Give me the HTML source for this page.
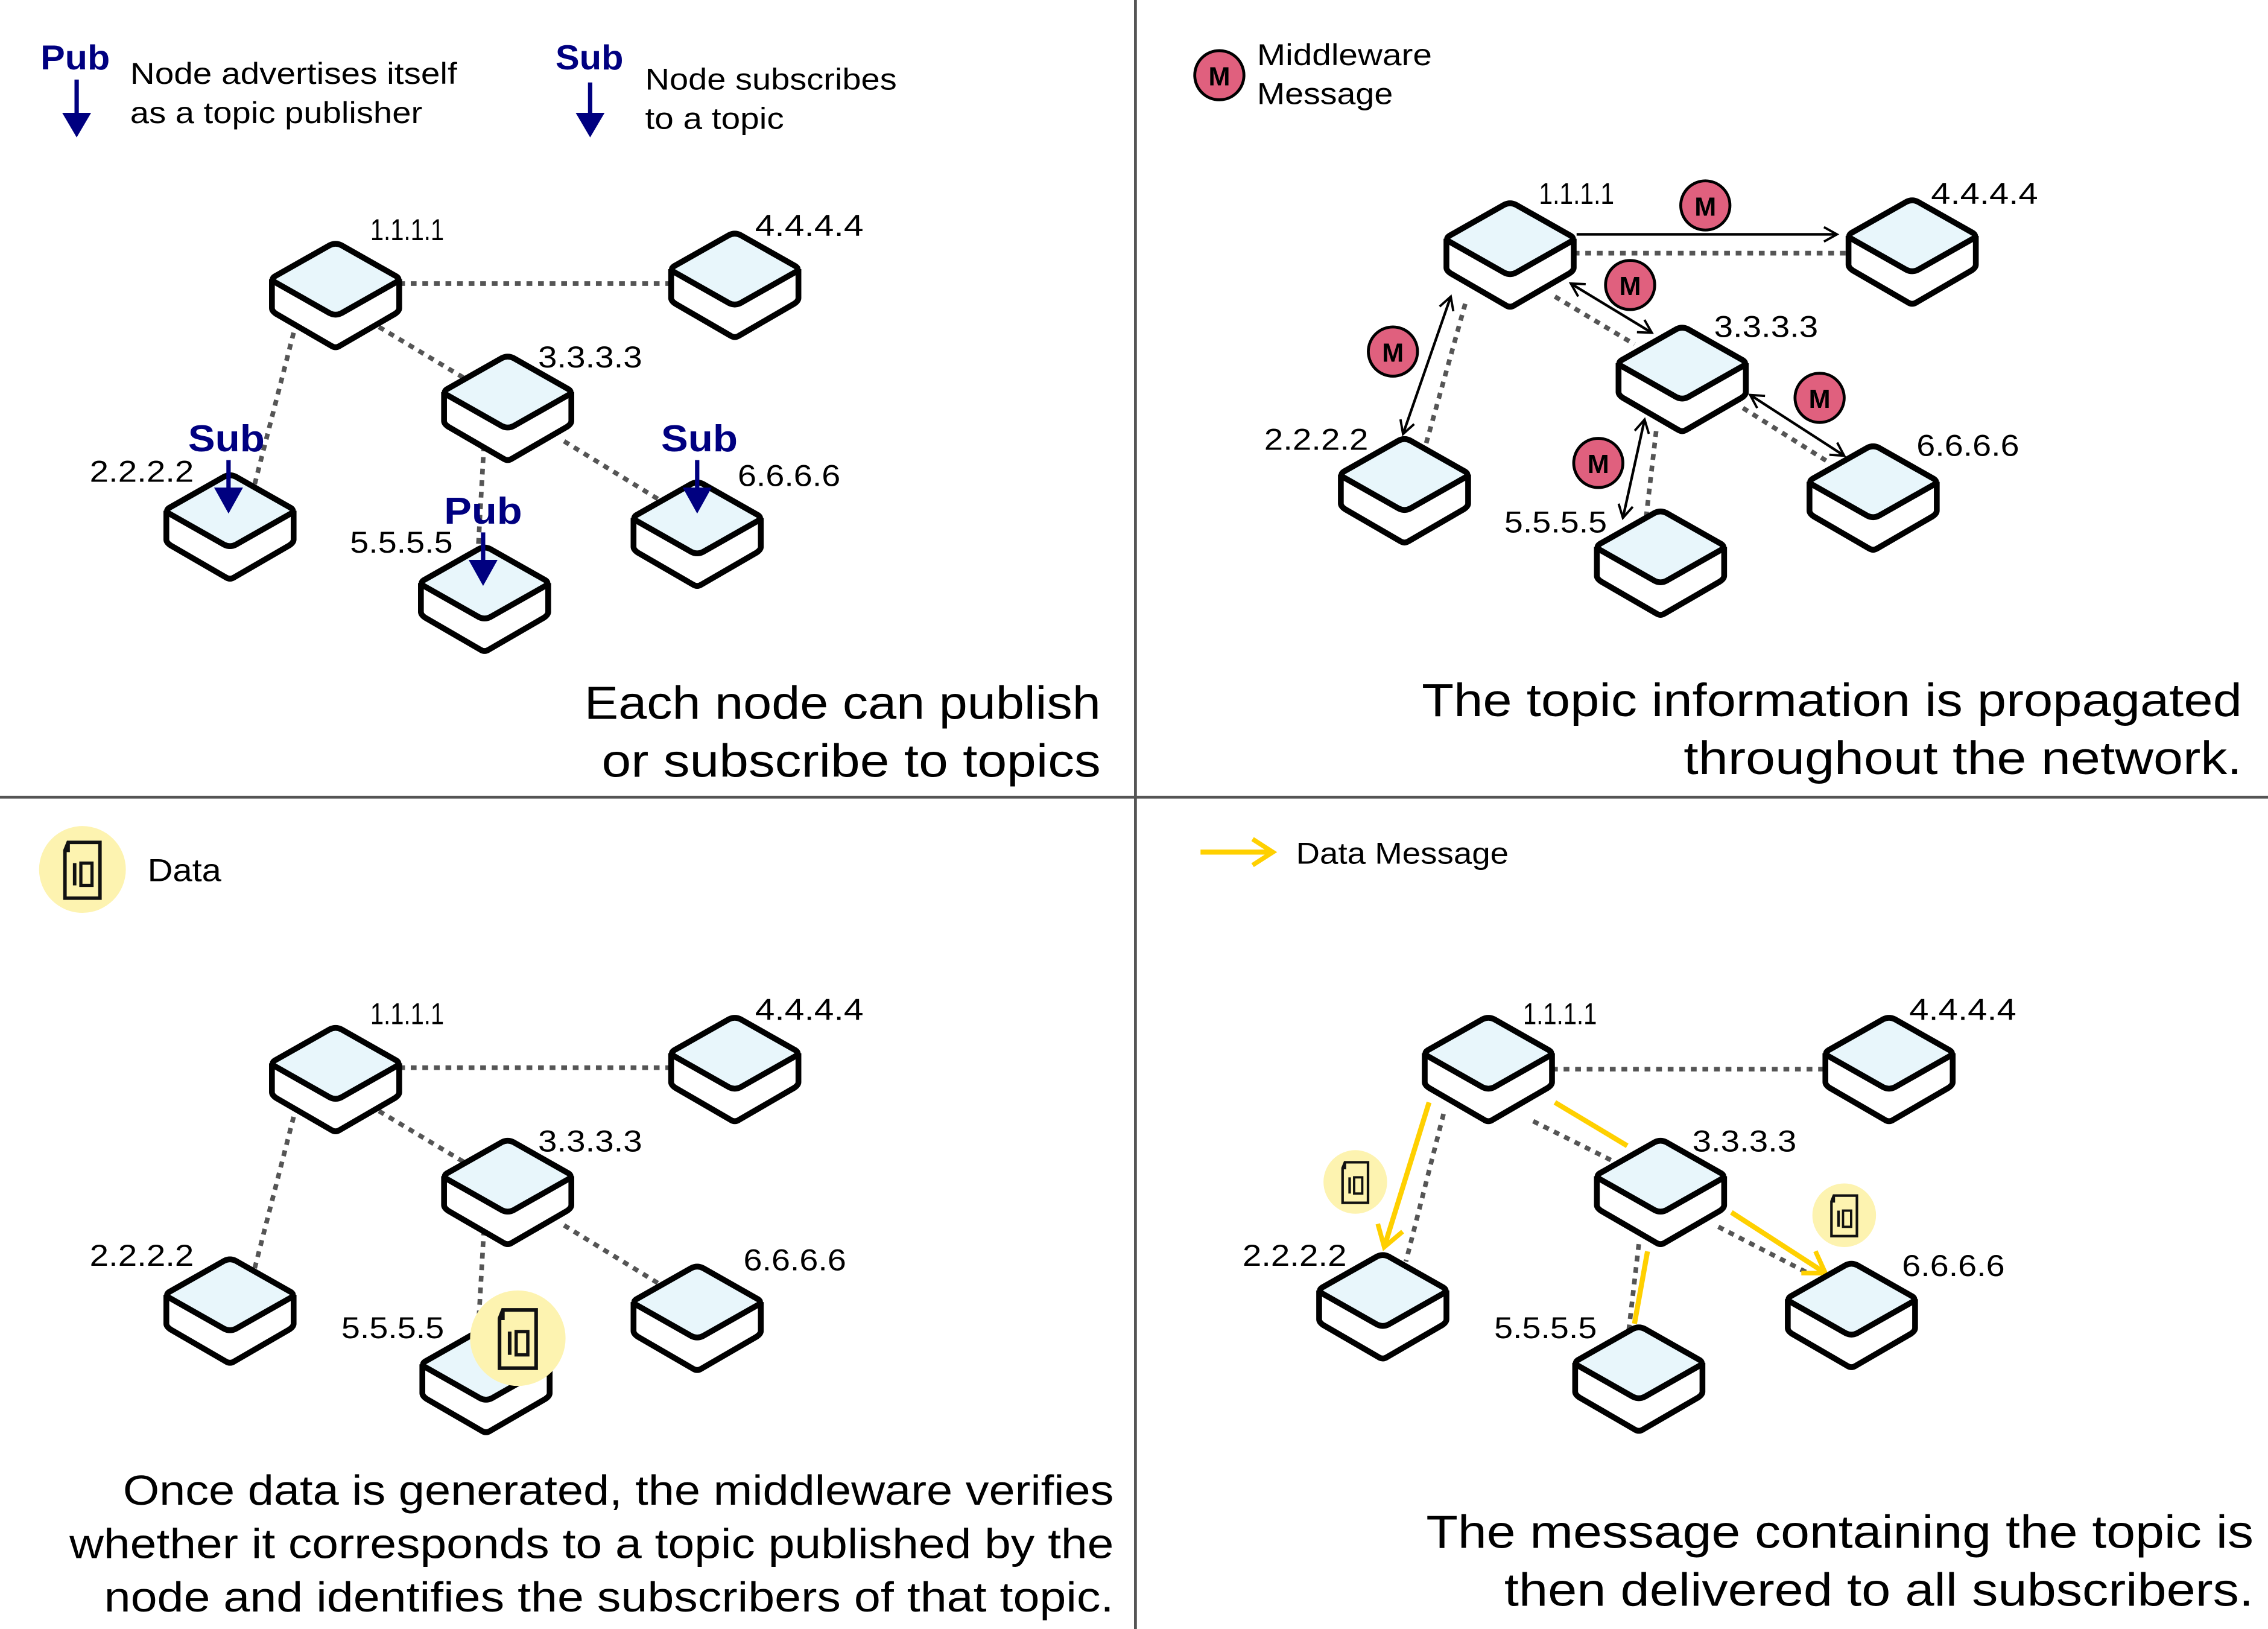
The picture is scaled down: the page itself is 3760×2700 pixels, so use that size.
<!DOCTYPE html>
<html><head><meta charset="utf-8"><style>
html,body{margin:0;padding:0;background:#fff}
svg{display:block}
text{font-family:"Liberation Sans",sans-serif;fill:#000}
</style></head><body>
<svg width="3760" height="2700" viewBox="0 0 1568 1126" preserveAspectRatio="none" xmlns="http://www.w3.org/2000/svg">
<defs>
<g id="node">
<path d="M0,25 L0,45 Q0,47 3,49 L41,71 Q44,73 47,71 L85,49 Q88,47 88,45 L88,25" fill="#fff" stroke="#000" stroke-width="4" stroke-linejoin="round"/>
<path d="M2,23 L40,1.5 Q44,-0.5 48,1.5 L86,23 Q89,25 86,27 L48,48.5 Q44,50.5 40,48.5 L2,27 Q-1,25 2,23 Z" fill="#e8f6fb" stroke="#000" stroke-width="4" stroke-linejoin="round"/>
</g>
<g id="doc">
<path d="M-9,-17 L11,-17 L11,18 L-11,18 L-11,-12 Z M-9,-17 L-9,-12 L-11,-12" fill="none" stroke="#111" stroke-width="2.2"/>
<rect x="-6" y="-4" width="2.2" height="14" fill="#111"/>
<rect x="-1" y="-4" width="7" height="14" fill="none" stroke="#111" stroke-width="2"/>
</g>
<marker id="ah" markerWidth="12" markerHeight="12" refX="10" refY="6" orient="auto" markerUnits="userSpaceOnUse">
<path d="M1,1 L10,6 L1,11" fill="none" stroke="#000" stroke-width="1.6"/>
</marker>
<marker id="ahs" markerWidth="12" markerHeight="12" refX="10" refY="6" orient="auto-start-reverse" markerUnits="userSpaceOnUse">
<path d="M1,1 L10,6 L1,11" fill="none" stroke="#000" stroke-width="1.6"/>
</marker>
<marker id="yh" markerWidth="24" markerHeight="24" refX="18" refY="12" orient="auto" markerUnits="userSpaceOnUse">
<path d="M4,3 L18,12 L4,21" fill="none" stroke="#ffd000" stroke-width="3.2"/>
</marker>
</defs>

<line x1="785" y1="0" x2="785" y2="1126" stroke="#555" stroke-width="2"/>
<line x1="0" y1="551" x2="1568" y2="551" stroke="#555" stroke-width="2"/>

<g stroke="#555" stroke-width="3.2" stroke-dasharray="4,4" fill="none">
<line x1="276" y1="196" x2="464" y2="196"/>
<line x1="203" y1="230" x2="176" y2="335"/>
<line x1="262" y1="226" x2="322" y2="262"/>
<line x1="335" y1="300" x2="330" y2="390"/>
<line x1="390" y1="305" x2="455" y2="345"/>
<line x1="1088" y1="175" x2="1278" y2="175"/>
<line x1="1075" y1="205" x2="1130" y2="238"/>
<line x1="1013" y1="210" x2="985" y2="310"/>
<line x1="1205" y1="282" x2="1265" y2="320"/>
<line x1="1145" y1="298" x2="1138" y2="358"/>
<line x1="276" y1="738" x2="464" y2="738"/>
<line x1="203" y1="772" x2="176" y2="877"/>
<line x1="262" y1="768" x2="322" y2="804"/>
<line x1="335" y1="842" x2="330" y2="930"/>
<line x1="390" y1="847" x2="455" y2="887"/>
<line x1="1073" y1="739" x2="1262" y2="739"/>
<line x1="998" y1="770" x2="972" y2="872"/>
<line x1="1060" y1="775" x2="1120" y2="805"/>
<line x1="1133" y1="860" x2="1126" y2="920"/>
<line x1="1188" y1="848" x2="1250" y2="880"/>
</g>

<use href="#node" x="188" y="168"/>
<use href="#node" x="464" y="161"/>
<use href="#node" x="307" y="246"/>
<use href="#node" x="115" y="328"/>
<use href="#node" x="291" y="378"/>
<use href="#node" x="438" y="333"/>
<g font-size="21" lengthAdjust="spacingAndGlyphs">
<text x="256" y="166" textLength="51" lengthAdjust="spacingAndGlyphs">1.1.1.1</text>
<text x="522" y="163" textLength="75" lengthAdjust="spacingAndGlyphs">4.4.4.4</text>
<text x="372" y="254" textLength="72" lengthAdjust="spacingAndGlyphs">3.3.3.3</text>
<text x="62" y="333" textLength="72" lengthAdjust="spacingAndGlyphs">2.2.2.2</text>
<text x="242" y="382" textLength="71" lengthAdjust="spacingAndGlyphs">5.5.5.5</text>
<text x="510" y="336" textLength="71" lengthAdjust="spacingAndGlyphs">6.6.6.6</text>
</g>
<g fill="#000080">
<text x="28" y="48" font-size="24" font-weight="bold" style="fill:#000080" textLength="48" lengthAdjust="spacingAndGlyphs">Pub</text>
<rect x="51.5" y="55" width="3" height="26"/><path d="M43,78 L63,78 L53,95 Z"/>
<text x="384" y="48" font-size="24" font-weight="bold" style="fill:#000080" textLength="47" lengthAdjust="spacingAndGlyphs">Sub</text>
<rect x="406.5" y="57" width="3" height="24"/><path d="M398,78 L418,78 L408,95 Z"/>
<text x="130" y="312" font-size="26" font-weight="bold" style="fill:#000080" textLength="53" lengthAdjust="spacingAndGlyphs">Sub</text>
<rect x="156.5" y="318" width="3" height="22"/><path d="M148,337 L168,337 L158,355 Z"/>
<text x="457" y="312" font-size="26" font-weight="bold" style="fill:#000080" textLength="53" lengthAdjust="spacingAndGlyphs">Sub</text>
<rect x="480.5" y="318" width="3" height="22"/><path d="M472,337 L492,337 L482,355 Z"/>
<text x="307" y="362" font-size="26" font-weight="bold" style="fill:#000080" textLength="54" lengthAdjust="spacingAndGlyphs">Pub</text>
<rect x="332.5" y="368" width="3" height="22"/><path d="M324,387 L344,387 L334,405 Z"/>
</g>
<g font-size="21">
<text x="90" y="58" textLength="226" lengthAdjust="spacingAndGlyphs">Node advertises itself</text>
<text x="90" y="85" textLength="202" lengthAdjust="spacingAndGlyphs">as a topic publisher</text>
<text x="446" y="62" textLength="174" lengthAdjust="spacingAndGlyphs">Node subscribes</text>
<text x="446" y="89" textLength="96" lengthAdjust="spacingAndGlyphs">to a topic</text>
</g>
<g font-size="32">
<text x="404" y="497" textLength="357" lengthAdjust="spacingAndGlyphs">Each node can publish</text>
<text x="416" y="537" textLength="345" lengthAdjust="spacingAndGlyphs">or subscribe to topics</text>
</g>

<g stroke="#000" stroke-width="1.8" fill="none">
<line x1="1090" y1="162" x2="1270" y2="162" marker-end="url(#ah)"/>
<line x1="1086" y1="196" x2="1142" y2="230" marker-start="url(#ahs)" marker-end="url(#ah)"/>
<line x1="1003" y1="205" x2="970" y2="300" marker-start="url(#ahs)" marker-end="url(#ah)"/>
<line x1="1210" y1="273" x2="1275" y2="315" marker-start="url(#ahs)" marker-end="url(#ah)"/>
<line x1="1122" y1="358" x2="1137" y2="290" marker-start="url(#ahs)" marker-end="url(#ah)"/>
</g>
<use href="#node" x="1000" y="140"/>
<use href="#node" x="1278" y="138"/>
<use href="#node" x="1119" y="226"/>
<use href="#node" x="927" y="303"/>
<use href="#node" x="1104" y="353"/>
<use href="#node" x="1251" y="308"/>
<g font-size="21">
<text x="1064" y="141" textLength="52" lengthAdjust="spacingAndGlyphs">1.1.1.1</text>
<text x="1335" y="141" textLength="74" lengthAdjust="spacingAndGlyphs">4.4.4.4</text>
<text x="1185" y="233" textLength="72" lengthAdjust="spacingAndGlyphs">3.3.3.3</text>
<text x="874" y="311" textLength="72" lengthAdjust="spacingAndGlyphs">2.2.2.2</text>
<text x="1040" y="368" textLength="71" lengthAdjust="spacingAndGlyphs">5.5.5.5</text>
<text x="1325" y="315" textLength="71" lengthAdjust="spacingAndGlyphs">6.6.6.6</text>
</g>
<g font-size="18" font-weight="bold" text-anchor="middle">
<circle cx="843" cy="52" r="17" fill="#e0607e" stroke="#000" stroke-width="2"/><text x="843" y="59">M</text>
<circle cx="1179" cy="142" r="17" fill="#e0607e" stroke="#000" stroke-width="2"/><text x="1179" y="149">M</text>
<circle cx="1127" cy="197" r="17" fill="#e0607e" stroke="#000" stroke-width="2"/><text x="1127" y="204">M</text>
<circle cx="963" cy="243" r="17" fill="#e0607e" stroke="#000" stroke-width="2"/><text x="963" y="250">M</text>
<circle cx="1258" cy="275" r="17" fill="#e0607e" stroke="#000" stroke-width="2"/><text x="1258" y="282">M</text>
<circle cx="1105" cy="320" r="17" fill="#e0607e" stroke="#000" stroke-width="2"/><text x="1105" y="327">M</text>
</g>
<g font-size="21">
<text x="869" y="45" textLength="121" lengthAdjust="spacingAndGlyphs">Middleware</text>
<text x="869" y="72" textLength="94" lengthAdjust="spacingAndGlyphs">Message</text>
</g>
<g font-size="32">
<text x="983" y="495" textLength="567" lengthAdjust="spacingAndGlyphs">The topic information is propagated</text>
<text x="1164" y="535" textLength="386" lengthAdjust="spacingAndGlyphs">throughout the network.</text>
</g>

<use href="#node" x="188" y="710"/>
<use href="#node" x="464" y="703"/>
<use href="#node" x="307" y="788"/>
<use href="#node" x="115" y="870"/>
<use href="#node" x="292" y="918"/>
<use href="#node" x="438" y="875"/>
<g font-size="21">
<text x="256" y="708" textLength="51" lengthAdjust="spacingAndGlyphs">1.1.1.1</text>
<text x="522" y="705" textLength="75" lengthAdjust="spacingAndGlyphs">4.4.4.4</text>
<text x="372" y="796" textLength="72" lengthAdjust="spacingAndGlyphs">3.3.3.3</text>
<text x="62" y="875" textLength="72" lengthAdjust="spacingAndGlyphs">2.2.2.2</text>
<text x="236" y="925" textLength="71" lengthAdjust="spacingAndGlyphs">5.5.5.5</text>
<text x="514" y="878" textLength="71" lengthAdjust="spacingAndGlyphs">6.6.6.6</text>
</g>
<circle cx="57" cy="601" r="30" fill="#fdf3b0"/>
<use href="#doc" transform="translate(57,601) scale(1.1)"/>
<text x="102" y="609" font-size="22" textLength="51" lengthAdjust="spacingAndGlyphs">Data</text>
<circle cx="358" cy="925" r="33" fill="#fdf3b0"/>
<use href="#doc" transform="translate(358,925) scale(1.15)"/>
<g font-size="29">
<text x="85" y="1040" textLength="685" lengthAdjust="spacingAndGlyphs">Once data is generated, the middleware verifies</text>
<text x="48" y="1077" textLength="722" lengthAdjust="spacingAndGlyphs">whether it corresponds to a topic published by the</text>
<text x="72" y="1114" textLength="698" lengthAdjust="spacingAndGlyphs">node and identifies the subscribers of that topic.</text>
</g>

<g stroke="#ffd000" stroke-width="3.5" fill="none">
<line x1="830" y1="589" x2="880" y2="589" marker-end="url(#yh)"/>
<line x1="988" y1="762" x2="957" y2="862" marker-end="url(#yh)"/>
<line x1="1075" y1="762" x2="1125" y2="792"/>
<line x1="1197" y1="838" x2="1262" y2="880" marker-end="url(#yh)"/>
<line x1="1139" y1="865" x2="1130" y2="915"/>
</g>
<use href="#node" x="985" y="703"/>
<use href="#node" x="1262" y="703"/>
<use href="#node" x="1104" y="788"/>
<use href="#node" x="912" y="867"/>
<use href="#node" x="1089" y="917"/>
<use href="#node" x="1236" y="873"/>
<g font-size="21">
<text x="1053" y="708" textLength="51" lengthAdjust="spacingAndGlyphs">1.1.1.1</text>
<text x="1320" y="705" textLength="74" lengthAdjust="spacingAndGlyphs">4.4.4.4</text>
<text x="1170" y="796" textLength="72" lengthAdjust="spacingAndGlyphs">3.3.3.3</text>
<text x="859" y="875" textLength="72" lengthAdjust="spacingAndGlyphs">2.2.2.2</text>
<text x="1033" y="925" textLength="71" lengthAdjust="spacingAndGlyphs">5.5.5.5</text>
<text x="1315" y="882" textLength="71" lengthAdjust="spacingAndGlyphs">6.6.6.6</text>
</g>
<circle cx="937" cy="817" r="22" fill="#fdf3b0"/>
<use href="#doc" transform="translate(937,817) scale(0.8)"/>
<circle cx="1275" cy="840" r="22" fill="#fdf3b0"/>
<use href="#doc" transform="translate(1275,840) scale(0.8)"/>
<text x="896" y="597" font-size="21" textLength="147" lengthAdjust="spacingAndGlyphs">Data Message</text>
<g font-size="32">
<text x="986" y="1070" textLength="572" lengthAdjust="spacingAndGlyphs">The message containing the topic is</text>
<text x="1040" y="1110" textLength="518" lengthAdjust="spacingAndGlyphs">then delivered to all subscribers.</text>
</g>
</svg>
</body></html>
